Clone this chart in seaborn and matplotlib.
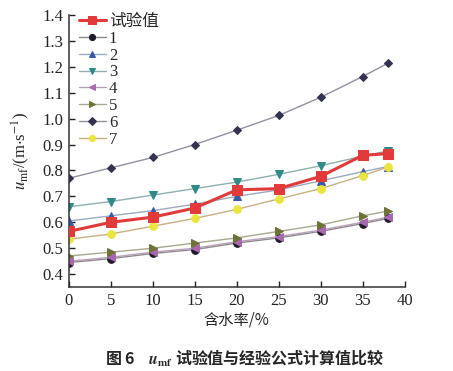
import matplotlib.pyplot as plt
import seaborn as sns
import pandas as pd

# 含水率 (%)
water = [0, 5, 10, 15, 20, 25, 30, 35, 38]

test_vals = [0.565, 0.600, 0.620, 0.655, 0.725, 0.730, 0.777, 0.858, 0.865]
f1 = [0.445, 0.460, 0.480, 0.495, 0.520, 0.540, 0.565, 0.595, 0.615]
f2 = [0.605, 0.625, 0.645, 0.670, 0.700, 0.725, 0.760, 0.795, 0.815]
f3 = [0.660, 0.680, 0.705, 0.730, 0.755, 0.785, 0.818, 0.855, 0.875]
f4 = [0.450, 0.465, 0.485, 0.500, 0.525, 0.545, 0.570, 0.600, 0.620]
f5 = [0.470, 0.485, 0.500, 0.520, 0.540, 0.565, 0.590, 0.625, 0.643]
f6 = [0.770, 0.810, 0.850, 0.900, 0.955, 1.012, 1.082, 1.162, 1.213]
f7 = [0.535, 0.555, 0.585, 0.615, 0.650, 0.690, 0.730, 0.780, 0.813]

series_names = ['试验值', '1', '2', '3', '4', '5', '6', '7']
series_vals = [test_vals, f1, f2, f3, f4, f5, f6, f7]
markers = ['s', 'o', '^', 'v', '<', '>', 'D', 'o']
mcolors = ['#e23a3a', '#1e1a28', '#3a5aa8', '#2f8a88', '#a868b0', '#6e7236', '#33334f', '#eae43c']
lcolors = ['#e23a3a', '#8a8a8a', '#9aaac0', '#8fb0b0', '#b8a0b8', '#a8a890', '#9090a0', '#c8b080']

sns.set_style('ticks')
plt.rcParams['font.family'] = ['Liberation Serif', 'Noto Sans CJK SC']
plt.rcParams['mathtext.fontset'] = 'stix'

fig = plt.figure(figsize=(4.53, 3.71), dpi=100)
ax = fig.add_axes([0.152, 0.226, 0.741, 0.734])

for name, vals, m, mc, lc in zip(series_names, series_vals, markers, mcolors, lcolors):
    df = pd.DataFrame({'x': water, 'y': vals})
    if name == '试验值':
        sns.lineplot(data=df, x='x', y='y', ax=ax, color=lc, lw=2.2, marker=m,
                     markersize=7, markerfacecolor=mc, markeredgecolor=mc, label=name, zorder=5)
    else:
        ms = 4.5 if m == 'D' else 5.5
        sns.lineplot(data=df, x='x', y='y', ax=ax, color=lc, lw=1.0, marker=m,
                     markersize=ms, markerfacecolor=mc, markeredgecolor=mc, label=name)

ax.set_xlim(0, 40)
ax.set_ylim(0.35, 1.4)
ax.set_xticks([0, 5, 10, 15, 20, 25, 30, 35, 40])
ax.set_yticks([0.4, 0.5, 0.6, 0.7, 0.8, 0.9, 1.0, 1.1, 1.2, 1.3, 1.4])
ax.set_yticklabels(['0.4', '0.5', '0.6', '0.7', '0.8', '0.9', '1.0', '1.1', '1.2', '1.3', '1.4'])
ax.tick_params(direction='in', length=4, width=1, labelsize=12, colors='#222222', pad=4)
for s in ['left', 'bottom']:
    ax.spines[s].set_linewidth(1.1)
    ax.spines[s].set_color('#333333')
sns.despine(ax=ax)

ax.set_xlabel('含水率/%', fontsize=11, family=['Noto Sans CJK SC'], labelpad=2)
ax.set_ylabel(r'$u_{\mathrm{mf}}$/(m$\cdot$s$^{-1}$)', fontsize=12, labelpad=2)
ax.yaxis.set_label_coords(-0.11, 0.5)

leg = ax.legend(loc='upper left', bbox_to_anchor=(0.0, 1.04), frameon=False, fontsize=12,
                handlelength=1.6, handletextpad=0.2, labelspacing=0.05, borderaxespad=0.2,
                markerscale=0.8)
for t in leg.get_texts():
    t.set_family(['Liberation Serif', 'Noto Sans CJK SC'])

fig.text(0.54, 0.035, r'图 6    $\boldsymbol{u}_{\mathbf{mf}}$ 试验值与经验公式计算值比较',
         ha='center', va='center', fontsize=11.5, fontweight='bold',
         family=['Noto Sans CJK SC', 'DejaVu Sans'])

fig.savefig('out.png', dpi=100)
